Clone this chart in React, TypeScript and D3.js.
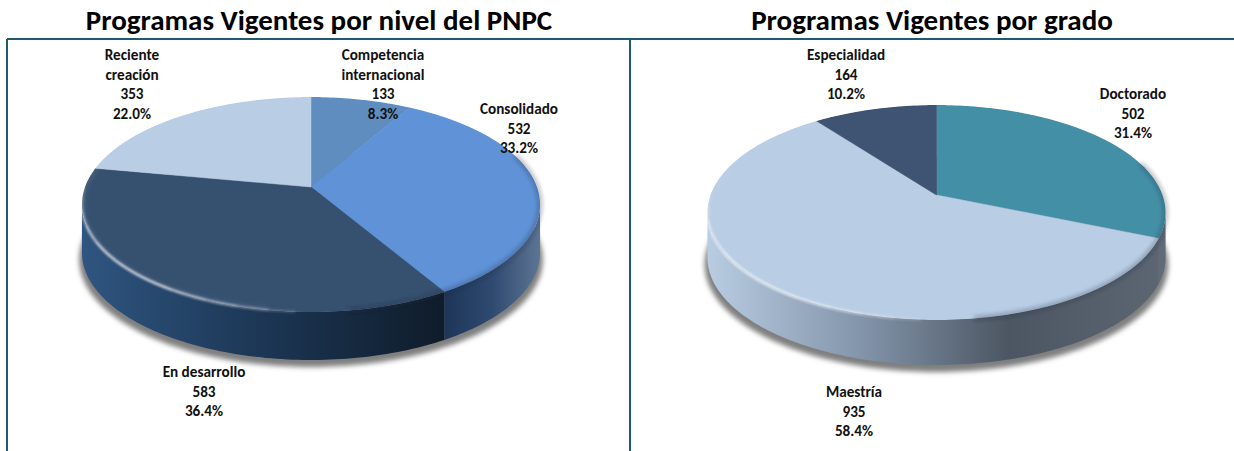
import React, { useRef, useEffect } from 'react';
import * as d3 from 'd3';

const leftTitle = 'Programas Vigentes por nivel del PNPC';
const leftNames = [['Competencia', 'internacional'], ['Consolidado'], ['En desarrollo'], ['Reciente', 'creación']];
const leftValues = [133, 532, 583, 353];
const leftPercents = ['8.3%', '33.2%', '36.4%', '22.0%'];
const leftColors = ['#5f8dc0', '#5f92d6', '#36506f', '#b9cde4'];
// wall colours, from the left end of the slice's wall to the right end
const leftWalls = [['#2f4c70', '#2f4c70'], ['#1d3558', '#2f4a70', '#5d7594'], ['#2f5580', '#1c3654', '#0f1c2a'], ['#8ea6c4', '#8ea6c4']];
const leftLabelX = [383, 519, 204, 132];
const leftLabelY = [60, 114, 377, 60];

const rightTitle = 'Programas Vigentes por grado';
const rightNames = [['Doctorado'], ['Maestría'], ['Especialidad']];
const rightValues = [502, 935, 164];
const rightPercents = ['31.4%', '58.4%', '10.2%'];
const rightColors = ['#438fa6', '#b9cde4', '#3f5472'];
const rightWalls = [['#5f6b78', '#5f6b78'], ['#b8cce2', '#8496ac', '#4c5663', '#5c6672'], ['#3f5472', '#3f5472']];
const rightLabelX = [1133, 854, 846];
const rightLabelY = [99, 397, 60];

const FONT = 'Carlito, Calibri, "Open Sans", "Noto Sans", sans-serif';
const TWO_PI = Math.PI * 2;
const LINE_GAP = 19.5;

// perspective of the tilted disc: a unit circle goes to the screen with these
const radiusX = 226;
const radiusY = 104.6;
const persp = -0.163;
const wallStart = Math.PI / 2 + Math.asin(-persp);
const wallEnd = (Math.PI * 3) / 2 - Math.asin(-persp);

const project = (cx: number, cy: number, angle: number) => {
  const u = Math.sin(angle);
  const v = -Math.cos(angle);
  const w = 1 + persp * v;
  return [cx + (radiusX * u) / w, cy + (radiusY * v) / w] as [number, number];
};

const sampleAngles = (a0: number, a1: number) => {
  const n = Math.max(2, Math.ceil(Math.abs(a1 - a0) / 0.02));
  return d3.range(n + 1).map(i => a0 + ((a1 - a0) * i) / n);
};

const pathLine = d3.line();

function drawPie(svg: any, id: string, cx: number, cy: number, depth: number, values: number[], colors: string[], walls: string[][]) {
  const arcs = d3.pie<number>().sort(null).startAngle(0).endAngle(TWO_PI)(values);
  const g = svg.append('g');
  const rim = sampleAngles(0, TWO_PI).map(a => project(cx, cy, a));
  const rimPath = pathLine(rim) + 'Z';

  // drop shadow under the disc, a bit wider than the wall
  g.append('path')
    .attr('d', pathLine(rim.map(p => [cx + (p[0] - cx) * 1.012, p[1] + depth + 7])) + 'Z')
    .attr('fill', '#7f7f7f')
    .attr('filter', 'url(#blur3)');

  // the wall, one piece per slice on the visible half
  const defs = svg.append('defs');
  arcs.forEach((d: any, i: number) => {
    const a0 = Math.max(d.startAngle, wallStart);
    const a1 = Math.min(d.endAngle, wallEnd);
    if (a1 <= a0) return;
    const pts = sampleAngles(a0, a1).map(a => project(cx, cy, a));
    const bottom = pts.map(p => [p[0], p[1] + depth] as [number, number]).reverse();
    const gradId = `${id}-wall-${i}`;
    const grad = defs.append('linearGradient')
      .attr('id', gradId)
      .attr('gradientUnits', 'userSpaceOnUse')
      .attr('x1', d3.min(pts, p => p[0]))
      .attr('x2', d3.max(pts, p => p[0]))
      .attr('y1', 0)
      .attr('y2', 0);
    walls[i].forEach((c, k) => {
      grad.append('stop').attr('offset', k / (walls[i].length - 1)).attr('stop-color', c);
    });
    g.append('path')
      .attr('d', pathLine(pts.concat(bottom)) + 'Z')
      .attr('fill', `url(#${gradId})`);
  });

  // top face
  const clipId = `${id}-clip`;
  defs.append('clipPath').attr('id', clipId).append('path').attr('d', rimPath);
  const top = g.append('g').attr('clip-path', `url(#${clipId})`);
  arcs.forEach((d: any, i: number) => {
    const pts = sampleAngles(d.startAngle, d.endAngle).map(a => project(cx, cy, a));
    top.append('path')
      .attr('d', pathLine([[cx, cy] as [number, number], ...pts]) + 'Z')
      .attr('fill', colors[i])
      .attr('stroke', colors[i])
      .attr('stroke-width', 0.5);
  });

  // bevel: dark on the right rim, bright on the lower left
  const arcStroke = (a0: number, a1: number) =>
    pathLine(sampleAngles(a0, a1).map(a => project(cx, cy, a)));
  g.append('path')
    .attr('d', arcStroke(1.25, 3.0))
    .attr('fill', 'none')
    .attr('stroke', '#1c2c40')
    .attr('stroke-opacity', 0.35)
    .attr('stroke-width', 4)
    .attr('filter', 'url(#blur2)');
  top.append('path')
    .attr('d', arcStroke(3.3, 5.0))
    .attr('fill', 'none')
    .attr('stroke', '#cfe0f5')
    .attr('stroke-opacity', 0.12)
    .attr('stroke-width', 5)
    .attr('filter', 'url(#blur2)');
  // nested strokes so the highlight fades out at both ends
  [[3.2, 4.7], [3.3, 4.6], [3.42, 4.48], [3.55, 4.35], [3.7, 4.2]].forEach(([a0, a1]) => {
    g.append('path')
      .attr('d', arcStroke(a0, a1))
      .attr('fill', 'none')
      .attr('stroke', '#ffffff')
      .attr('stroke-opacity', 0.2)
      .attr('stroke-width', 2.2)
      .attr('filter', 'url(#blur1)');
  });
}

function drawLabels(svg: any, names: string[][], values: number[], percents: string[], xs: number[], ys: number[]) {
  names.forEach((name, i) => {
    const lines = [...name, String(values[i]), percents[i]];
    lines.forEach((line, j) => {
      svg.append('text')
        .attr('x', xs[i])
        .attr('y', ys[i] + j * LINE_GAP)
        .attr('text-anchor', 'middle')
        .attr('font-family', FONT)
        .attr('font-size', 15.2)
        .attr('font-weight', 700)
        .attr('fill', '#111')
        .text(line);
    });
  });
}

const App = () => {
  const ref = useRef<SVGSVGElement>(null);

  useEffect(() => {
    const svg = d3.select(ref.current);
    svg.selectAll('*').remove();

    const defs = svg.append('defs');
    [1, 2, 3].forEach(s => {
      defs.append('filter')
        .attr('id', `blur${s}`)
        .attr('x', '-20%').attr('y', '-20%').attr('width', '140%').attr('height', '140%')
        .append('feGaussianBlur')
        .attr('stdDeviation', s === 1 ? 0.8 : s === 2 ? 2 : 2.5);
    });

    svg.append('rect').attr('width', 1234).attr('height', 451).attr('fill', '#fff');

    drawPie(svg, 'left', 311, 187, 48, leftValues, leftColors, leftWalls);
    drawPie(svg, 'right', 936.5, 195, 45, rightValues, rightColors, rightWalls);

    // frame lines
    const frame = '#1f5a6e';
    const frameLines = [[7, 39, 1234, 39], [7, 39, 7, 451], [630, 39, 630, 451]];
    svg.selectAll('line.frame')
      .data(frameLines)
      .enter()
      .append('line')
      .attr('class', 'frame')
      .attr('x1', d => d[0])
      .attr('y1', d => d[1])
      .attr('x2', d => d[2])
      .attr('y2', d => d[3])
      .attr('stroke', frame)
      .attr('stroke-width', 2);

    svg.append('text').attr('x', 319).attr('y', 30).attr('text-anchor', 'middle')
      .attr('font-family', FONT).attr('font-size', 29).attr('font-weight', 700).attr('fill', '#000')
      .text(leftTitle);
    svg.append('text').attr('x', 932).attr('y', 30).attr('text-anchor', 'middle')
      .attr('font-family', FONT).attr('font-size', 29).attr('font-weight', 700).attr('fill', '#000')
      .text(rightTitle);

    drawLabels(svg, leftNames, leftValues, leftPercents, leftLabelX, leftLabelY);
    drawLabels(svg, rightNames, rightValues, rightPercents, rightLabelX, rightLabelY);
  }, []);

  return (
    <svg
      ref={ref}
      width={1234}
      height={451}
      style={{ position: 'absolute', left: 0, top: 0, display: 'block' }}
    />
  );
};

export default App;
